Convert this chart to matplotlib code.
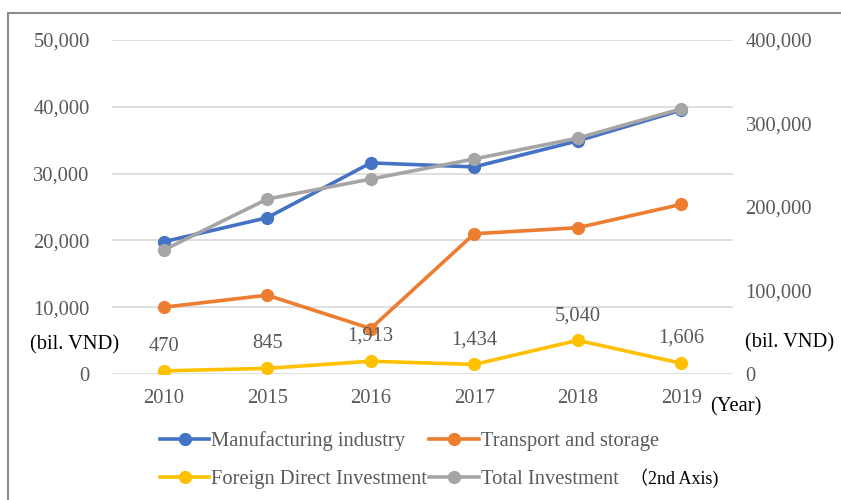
import numpy as np
import matplotlib
matplotlib.use("Agg")
import matplotlib.pyplot as plt
from matplotlib.patches import Rectangle
from matplotlib.ticker import FuncFormatter

## values
years = ["2010", "2015", "2016", "2017", "2018", "2019"]
manufacturing = [19800, 23400, 31600, 31000, 34900, 39500]
transport = [10000, 11800, 6800, 21000, 21900, 25400]
fdi = [470, 845, 1913, 1434, 5040, 1606]
total_investment = [148500, 209500, 233500, 257500, 282500, 317500]  # 2nd axis

plt.rcParams['font.family'] = ['Liberation Serif', 'Noto Sans CJK JP']

blue = '#4472C4'
orange = '#ED7D31'
yellow = '#FFC000'
grey = '#A5A5A5'
txt = '#595959'
fs = 14.8

fig = plt.figure(figsize=(8.41, 5.0), dpi=100)
ax = fig.add_axes([112/841, 1-374/500, 621/841, 334/500])
ax2 = ax.twinx()

x = np.arange(len(years))
lw = 2.6
ms = 8.5

l1, = ax.plot(x, manufacturing, color=blue, lw=lw, marker='o', ms=ms, zorder=3)
l2, = ax.plot(x, transport, color=orange, lw=lw, marker='o', ms=ms, zorder=3)
l3, = ax.plot(x, fdi, color=yellow, lw=lw, marker='o', ms=ms, zorder=3)
l4, = ax2.plot(x, total_investment, color=grey, lw=lw, marker='o', ms=ms, zorder=3)

# data labels for FDI
for xi, v in zip(x, fdi):
    ax.annotate(f"{v:,}", (xi, v), xytext=(0, 11), textcoords='offset points',
                ha='center', va='bottom', fontsize=fs, color=txt)

ax.set_xlim(-0.5, len(years) - 0.5)
ax.set_ylim(0, 50000)
ax2.set_ylim(0, 400000)
ax.set_yticks(np.arange(0, 50001, 10000))
ax2.set_yticks(np.arange(0, 400001, 100000))
fmt = FuncFormatter(lambda v, p: f"{int(v):,}")
ax.yaxis.set_major_formatter(fmt)
ax2.yaxis.set_major_formatter(fmt)
ax.set_xticks(x)
ax.set_xticklabels(years)

ax.grid(axis='y', color='#D9D9D9', lw=1.2)
ax.set_axisbelow(True)
for a in (ax, ax2):
    for s in a.spines.values():
        s.set_visible(False)
    a.tick_params(length=0, labelsize=fs, labelcolor=txt)
ax.tick_params(axis='y', pad=16)
ax2.tick_params(axis='y', pad=9)
ax.tick_params(axis='x', pad=11)

fig.text(30/841, 1-345/500, "(bil. VND)", fontsize=fs, color='black', va='center')
fig.text(745/841, 1-343/500, "(bil. VND)", fontsize=fs, color='black', va='center')
fig.text(710/841, 1-407/500, "(Year)", fontsize=fs, color='black', va='center')

# legend, two rows (column-major order)
leg = fig.legend([l1, l3, l2, l4],
                 ['Manufacturing industry', 'Foreign Direct Investment',
                  'Transport and storage', 'Total Investment'],
                 ncol=2, loc='upper left', bbox_to_anchor=(160/841, 1-431/500),
                 frameon=False, fontsize=fs, handlelength=2.4, handletextpad=0.1,
                 columnspacing=0.1, labelspacing=0.9, borderaxespad=0, borderpad=0)
for t in leg.get_texts():
    t.set_color(txt)
fig.text(630/841, 1-478/500, "（2nd Axis)", fontsize=13, color='black', va='center')

# outer frame
fig.patches.append(Rectangle((8/841, -0.1), 1.2, 1-13/500+0.1, transform=fig.transFigure,
                             fill=False, edgecolor='#8C8C8C', lw=1.5))

fig.savefig("out.png", dpi=100)
